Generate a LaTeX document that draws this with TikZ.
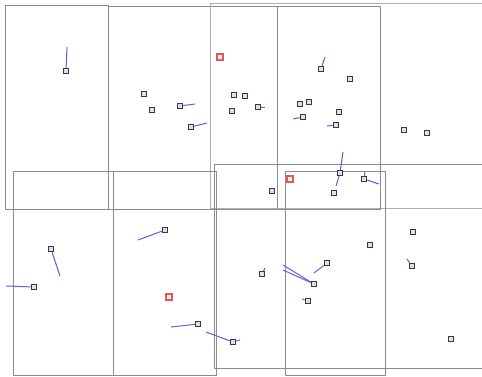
\documentclass[tikz,border=0pt]{standalone}
\definecolor{frame}{RGB}{140,140,140}
\definecolor{lnk}{RGB}{95,95,225}
\definecolor{sqd}{RGB}{55,55,75}
\definecolor{redsq}{RGB}{230,85,85}
\begin{document}
\begin{tikzpicture}[x=1pt,y=-1pt,
  region/.style={draw=frame,line width=0.9pt},
  sq/.style={draw=sqd,fill=black!12,line width=1pt,minimum size=5.5pt,inner sep=0pt,rectangle},
  rsq/.style={draw=redsq,fill=red!4,line width=1.1pt,minimum size=6pt,inner sep=0pt,rectangle},
  lk/.style={draw=lnk,line width=1pt}]
\useasboundingbox[fill=white] (0,0) rectangle (482,376);
\begin{scope}
\clip (0,0) rectangle (482,376);
\draw[region] (5,5) rectangle (108,209);
\draw[region] (108,6) rectangle (277,209);
\draw[region,draw=frame!70] (210,3) rectangle (495,208);
\draw[region] (277,6) rectangle (380,209);
\draw[region] (13,171) rectangle (113,375);
\draw[region] (113,171) rectangle (216,375);
\draw[region] (214,164) rectangle (495,368);
\draw[region] (285,171) rectangle (385,375);
\end{scope}
% free ends
\coordinate (e1) at (67,47);
\coordinate (e4) at (195,104);
\coordinate (e5) at (207,123);
\coordinate (e9) at (265,107);
\coordinate (e10) at (325,57);
\coordinate (e14) at (293,119);
\coordinate (e16) at (327,126);
\coordinate (e19a) at (343,152);
\coordinate (e19b) at (336,186);
\coordinate (e21a) at (379,184);
\coordinate (e21b) at (365,172);
\coordinate (e23) at (60,276);
\coordinate (e24) at (6,286);
\coordinate (e25) at (138,240);
\coordinate (e26) at (171,327);
\coordinate (e27a) at (206,332);
\coordinate (e27b) at (240,340);
\coordinate (e30) at (407,259);
\coordinate (e31) at (314,273);
\coordinate (e32) at (265,268);
\coordinate (e33a) at (283,265);
\coordinate (e33b) at (283,270);
\coordinate (e34) at (302,299);
% squares
\node[sq] (n1) at (66,71) {};
\node[sq] (n2) at (144,94) {};
\node[sq] (n3) at (152,110) {};
\node[sq] (n4) at (180,106) {};
\node[sq] (n5) at (191,127) {};
\node[sq] (n6) at (234,95) {};
\node[sq] (n7) at (232,111) {};
\node[sq] (n8) at (245,96) {};
\node[sq] (n9) at (258,107) {};
\node[sq] (n10) at (321,69) {};
\node[sq] (n11) at (350,79) {};
\node[sq] (n12) at (300,104) {};
\node[sq] (n13) at (309,102) {};
\node[sq] (n14) at (303,117) {};
\node[sq] (n15) at (339,112) {};
\node[sq] (n16) at (336,125) {};
\node[sq] (n17) at (404,130) {};
\node[sq] (n18) at (427,133) {};
\node[sq] (n19) at (340,173) {};
\node[sq] (n20) at (334,193) {};
\node[sq] (n21) at (364,179) {};
\node[sq] (n22) at (272,191) {};
\node[sq] (n23) at (51,249) {};
\node[sq] (n24) at (34,287) {};
\node[sq] (n25) at (165,230) {};
\node[sq] (n26) at (198,324) {};
\node[sq] (n27) at (233,342) {};
\node[sq] (n28) at (413,232) {};
\node[sq] (n29) at (370,245) {};
\node[sq] (n30) at (412,266) {};
\node[sq] (n31) at (327,263) {};
\node[sq] (n32) at (262,274) {};
\node[sq] (n33) at (314,284) {};
\node[sq] (n34) at (308,301) {};
\node[sq] (n35) at (451,339) {};
\node[rsq] (r1) at (220,57) {};
\node[rsq] (r2) at (290,179) {};
\node[rsq] (r3) at (169,297) {};
% connectors
\draw[lk] (n1) -- (e1);
\draw[lk] (n4) -- (e4);
\draw[lk] (n5) -- (e5);
\draw[lk] (n9) -- (e9);
\draw[lk] (n10) -- (e10);
\draw[lk] (n14) -- (e14);
\draw[lk] (n16) -- (e16);
\draw[lk] (n19) -- (e19a);
\draw[lk] (n19) -- (e19b);
\draw[lk] (n21) -- (e21a);
\draw[lk] (n21) -- (e21b);
\draw[lk] (n23) -- (e23);
\draw[lk] (n24) -- (e24);
\draw[lk] (n25) -- (e25);
\draw[lk] (n26) -- (e26);
\draw[lk] (n27) -- (e27a);
\draw[lk] (n27) -- (e27b);
\draw[lk] (n30) -- (e30);
\draw[lk] (n31) -- (e31);
\draw[lk] (n32) -- (e32);
\draw[lk] (n33) -- (e33a);
\draw[lk] (n33) -- (e33b);
\draw[lk] (n34) -- (e34);
\end{tikzpicture}
\end{document}
